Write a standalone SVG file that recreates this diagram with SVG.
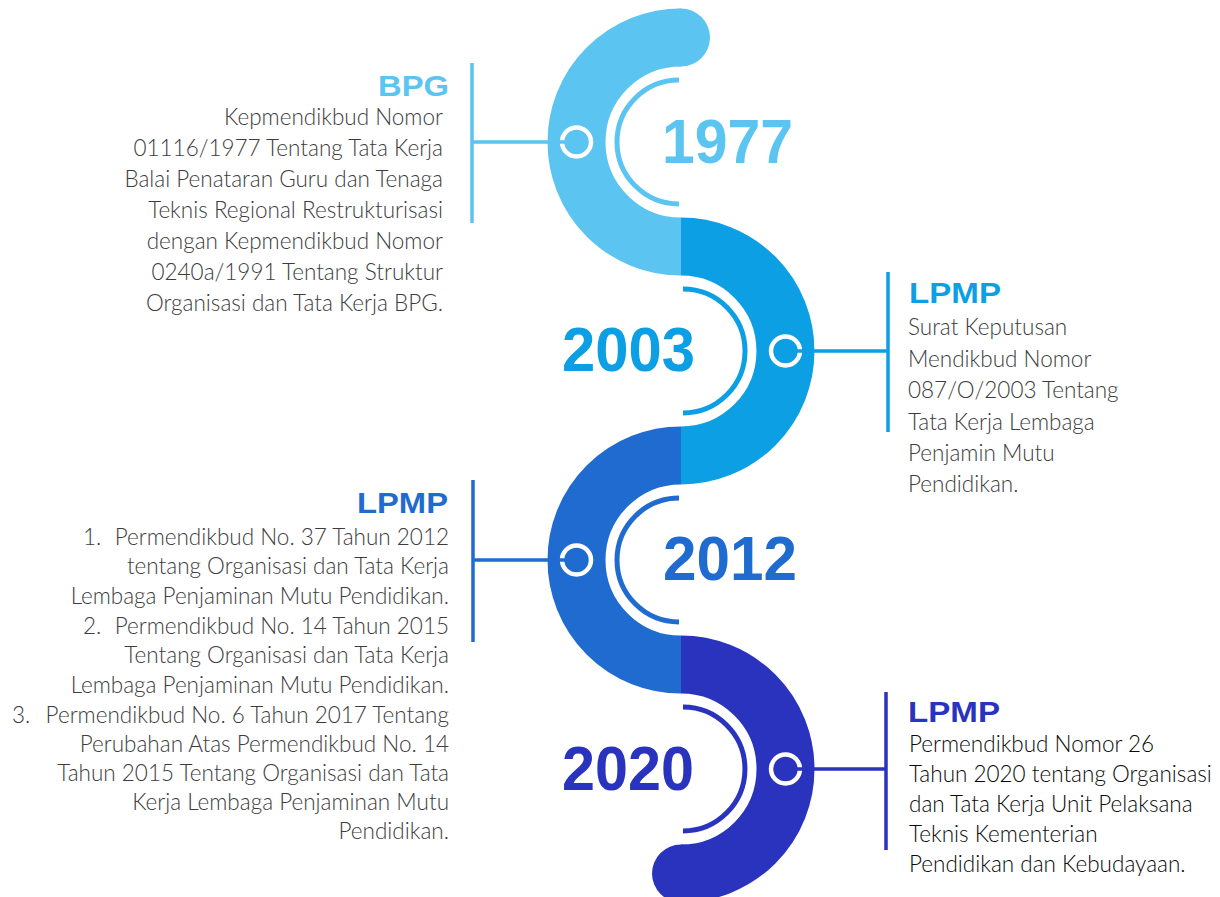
<svg xmlns="http://www.w3.org/2000/svg" width="1220" height="897" viewBox="0 0 1220 897">
<style>
.band{fill:none;stroke-width:58;stroke-linecap:butt}
.thin{fill:none;stroke-width:5}
.node{stroke:#fff;stroke-width:4.5}
.conn{stroke-width:3.5;fill:none}
.year{font-family:"Liberation Sans",Arial,sans-serif;font-weight:bold;font-size:63px}
.head{font-family:"Liberation Sans",Arial,sans-serif;font-weight:bold;font-size:30px}
.body{font-family:Lato,"Open Sans",sans-serif;font-weight:300;font-size:22.5px;fill:#3c3c3c}
.body2{font-family:Lato,"Open Sans",sans-serif;font-weight:300;font-size:22.5px;fill:#0a0a0a}
.c1{stroke:#5BC4F0}.f1{fill:#5BC4F0}
.c2{stroke:#0C9FE4}.f2{fill:#0C9FE4}
.c3{stroke:#1F6BCF}.f3{fill:#1F6BCF}
.c4{stroke:#2A33BE}.f4{fill:#2A33BE}
</style>
<rect width="1220" height="897" fill="#fff"/>
<g id="spine">
<path class="band c1" d="M681,37.5 A104.5,104.5 0 0 0 681,246.5"/>
<circle class="f1" cx="681" cy="37.5" r="29"/>
<path class="band c2" d="M681,246.5 A104.5,104.5 0 0 1 681,455.5"/>
<path class="band c3" d="M681,455.5 A104.5,104.5 0 0 0 681,664.5"/>
<path class="band c4" d="M681,664.5 A104.5,104.5 0 0 1 681,873.5"/>
<circle class="f4" cx="681" cy="873.5" r="29"/>
<path class="thin c1" d="M679,80 A62,62 0 0 0 679,204"/>
<path class="thin c2" d="M683,289 A62,62 0 0 1 683,413"/>
<path class="thin c3" d="M679,498 A62,62 0 0 0 679,622"/>
<path class="thin c4" d="M683,707 A62,62 0 0 1 683,831"/>
</g>
<g id="node-1977">
<circle class="node f1" cx="576.5" cy="142" r="14.5"/>
<text class="year f1" x="662" y="163" textLength="131" lengthAdjust="spacingAndGlyphs">1977</text>
<text class="head f1" x="449" y="96" text-anchor="end" textLength="71" lengthAdjust="spacingAndGlyphs">BPG</text>
<text class="body" text-anchor="end"><tspan x="443" y="125">Kepmendikbud Nomor</tspan><tspan x="443" y="156">01116/1977 Tentang Tata Kerja</tspan><tspan x="443" y="187">Balai Penataran Guru dan Tenaga</tspan><tspan x="443" y="218">Teknis Regional Restrukturisasi</tspan><tspan x="443" y="249">dengan Kepmendikbud Nomor</tspan><tspan x="443" y="280">0240a/1991 Tentang Struktur</tspan><tspan x="443" y="311">Organisasi dan Tata Kerja BPG.</tspan></text>
</g>
<g id="node-2003">
<circle class="node f2" cx="785.5" cy="351" r="14.5"/>
<text class="year f2" x="562" y="371" textLength="133" lengthAdjust="spacingAndGlyphs">2003</text>
<text class="head f2" x="909" y="303" textLength="92" lengthAdjust="spacingAndGlyphs">LPMP</text>
<text class="body"><tspan x="908" y="335">Surat Keputusan</tspan><tspan x="908" y="367">Mendikbud Nomor</tspan><tspan x="908" y="398">087/O/2003 Tentang</tspan><tspan x="908" y="430">Tata Kerja Lembaga</tspan><tspan x="908" y="461">Penjamin Mutu</tspan><tspan x="908" y="492">Pendidikan.</tspan></text>
</g>
<g id="node-2012">
<circle class="node f3" cx="576.5" cy="560" r="14.5"/>
<text class="year f3" x="663" y="580" textLength="134" lengthAdjust="spacingAndGlyphs">2012</text>
<text class="head f3" x="448" y="513" text-anchor="end" textLength="91" lengthAdjust="spacingAndGlyphs">LPMP</text>
<text class="body"><tspan x="83" y="545">1.</tspan><tspan x="83" y="634">2.</tspan><tspan x="12" y="723">3.</tspan></text>
<text class="body" text-anchor="end"><tspan x="449" y="545">Permendikbud No. 37 Tahun 2012</tspan><tspan x="449" y="574">tentang Organisasi dan Tata Kerja</tspan><tspan x="449" y="604">Lembaga Penjaminan Mutu Pendidikan.</tspan><tspan x="449" y="634">Permendikbud No. 14 Tahun 2015</tspan><tspan x="449" y="663">Tentang Organisasi dan Tata Kerja</tspan><tspan x="449" y="693">Lembaga Penjaminan Mutu Pendidikan.</tspan><tspan x="449" y="723">Permendikbud No. 6 Tahun 2017 Tentang</tspan><tspan x="449" y="752">Perubahan Atas Permendikbud No. 14</tspan><tspan x="449" y="781">Tahun 2015 Tentang Organisasi dan Tata</tspan><tspan x="449" y="810">Kerja Lembaga Penjaminan Mutu</tspan><tspan x="449" y="839">Pendidikan.</tspan></text>
</g>
<g id="node-2020">
<circle class="node f4" cx="785.5" cy="769" r="14.5"/>
<text class="year f4" x="562" y="790" textLength="132" lengthAdjust="spacingAndGlyphs">2020</text>
<text class="head f4" x="908" y="722" textLength="92" lengthAdjust="spacingAndGlyphs">LPMP</text>
<text class="body2"><tspan x="909" y="752">Permendikbud Nomor 26</tspan><tspan x="909" y="782">Tahun 2020 tentang Organisasi</tspan><tspan x="909" y="812">dan Tata Kerja Unit Pelaksana</tspan><tspan x="909" y="842">Teknis Kementerian</tspan><tspan x="909" y="872">Pendidikan dan Kebudayaan.</tspan></text>
</g>
<g id="connectors">
<path class="conn c1" d="M576.5,142 H472 M472,63 V223"/>
<path class="conn c2" d="M785.5,351 H888 M888,272 V432"/>
<path class="conn c3" d="M576.5,560 H473 M473,480 V642"/>
<path class="conn c4" d="M785.5,769 H886 M886,692 V850"/>
</g>
</svg>
